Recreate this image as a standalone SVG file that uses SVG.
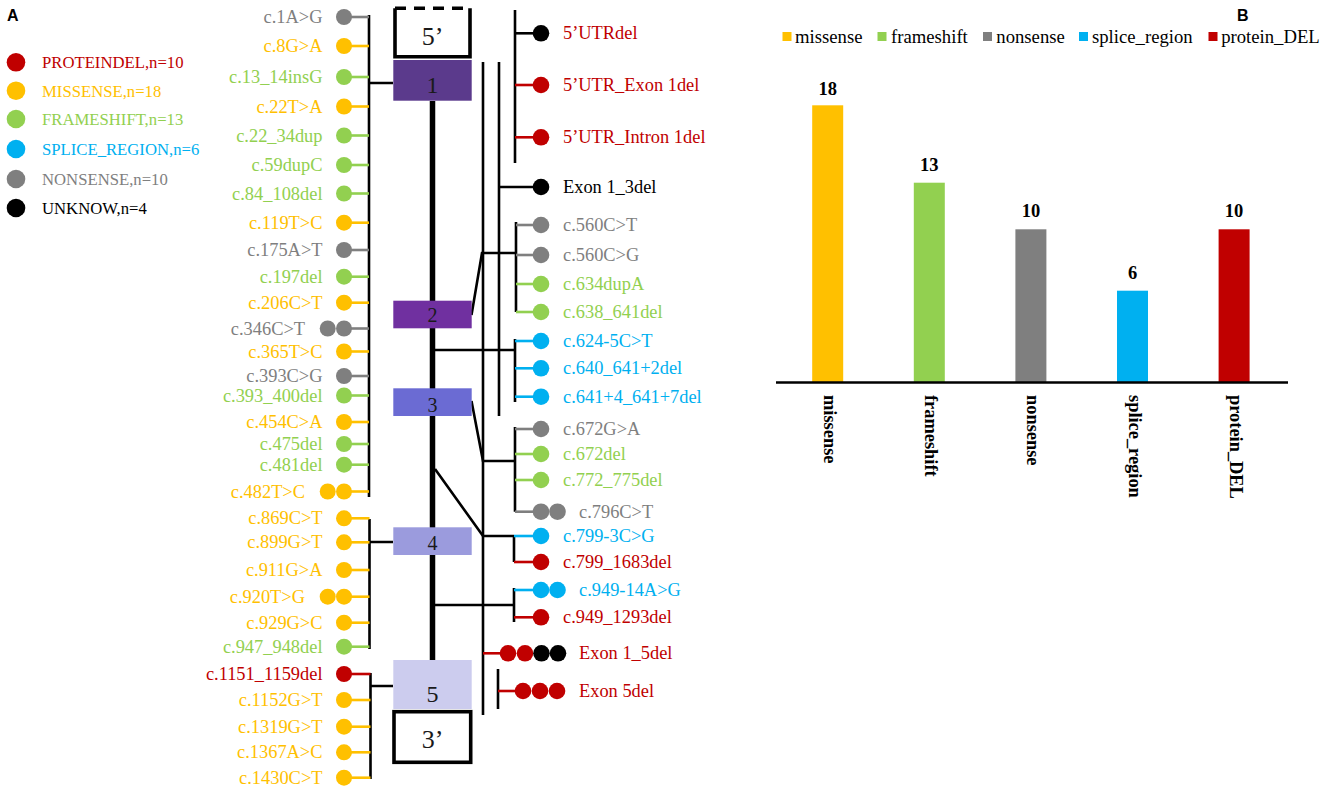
<svg xmlns="http://www.w3.org/2000/svg" width="1325" height="795" viewBox="0 0 1325 795">
<style>
text{font-family:"Liberation Serif","Times New Roman",serif}
.v{font-size:18.4px}
.e{text-anchor:end}
.lg{font-size:16.7px}
.r{fill:#C00000}.y{fill:#FFC000}.g{fill:#92D050}.b{fill:#00B0F0}.n{fill:#7F7F7F}.k{fill:#000}
path{fill:none;stroke-width:2.6}
.sr{stroke:#C00000}.sy{stroke:#FFC000}.sg{stroke:#92D050}.sb{stroke:#00B0F0}.sn{stroke:#7F7F7F}.sk{stroke:#000}
.thick{stroke-width:5.5}
.box{stroke:#000;stroke-width:3.6}
.ex{text-anchor:middle;fill:#1a1a1a}
.pl{font-family:"Liberation Sans",Arial,sans-serif;font-weight:bold;font-size:16px}
.val{font-weight:bold;font-size:18.5px;text-anchor:middle}
.ax{font-weight:bold;font-size:18.4px}
.bt{font-size:18.7px}
</style>

<text class="pl" x="7" y="21">A</text>
<text class="pl" x="1237" y="21">B</text>

<g id="legend-left">
<circle cx="16" cy="62.3" r="9.3" class="r"/><text x="42" y="68" class="lg r">PROTEINDEL,n=10</text>
<circle cx="16" cy="90.7" r="9.3" class="y"/><text x="42" y="96.5" class="lg y">MISSENSE,n=18</text>
<circle cx="16" cy="119" r="9.3" class="g"/><text x="42" y="125" class="lg g">FRAMESHIFT,n=13</text>
<circle cx="16" cy="149" r="9.3" class="b"/><text x="42" y="155" class="lg b">SPLICE_REGION,n=6</text>
<circle cx="16" cy="179" r="9.3" class="n"/><text x="42" y="185" class="lg n">NONSENSE,n=10</text>
<circle cx="16" cy="208" r="9.3" class="k"/><text x="42" y="214" class="lg k">UNKNOW,n=4</text>
</g>

<g id="connectors" stroke="#000">
<path d="M369 15V497M369 83H393"/>
<path d="M369.5 519V649M369.5 542H393"/>
<path d="M370.5 673V779M370.5 686H393"/>
<path d="M432.5 101V660" class="thick"/>
<path d="M483 62V715"/>
<path d="M499 62V416"/>
<path d="M515 10V163"/>
<path d="M471.5 315L482 253H516M516 222V312"/>
<path d="M432.5 350H515M515 339V402"/>
<path d="M471.5 401L483 461H515M515 427V511.7"/>
<path d="M435 469L483 536H514M514 536V562"/>
<path d="M432.5 605H514M514 588V622"/>
<path d="M498 669V709"/>
</g>

<g id="gene">
<g id="utr5"><path d="M395 58.5V8.3M470 58.5V8.3M395 56.7H470" class="box"/><path d="M395 8.3H470" class="box" stroke-dasharray="11 8"/><text x="432.5" y="45" class="ex" font-size="26">5’</text></g>
<g id="exon1"><rect x="393.3" y="60" width="78.4" height="40.7" fill="#5B3A8C"/><text x="432.5" y="93.3" class="ex" font-size="24">1</text></g>
<g id="exon2"><rect x="393.3" y="300.7" width="78.4" height="27.6" fill="#7030A0"/><text x="432.5" y="322" class="ex" font-size="20">2</text></g>
<g id="exon3"><rect x="393.3" y="388.3" width="78.4" height="27.7" fill="#6B6BD3"/><text x="432.5" y="411.5" class="ex" font-size="20">3</text></g>
<g id="exon4"><rect x="393.3" y="527.3" width="78.4" height="27.7" fill="#9B9BDD"/><text x="432.5" y="550" class="ex" font-size="20">4</text></g>
<g id="exon5"><rect x="393.3" y="660" width="78.4" height="49" fill="#CCCCEE"/><text x="432.5" y="701.7" class="ex" font-size="24">5</text></g>
<g id="utr3"><rect x="394" y="711.7" width="76.7" height="50.6" fill="#fff" class="box"/><text x="432.5" y="748.3" class="ex" font-size="26">3’</text></g>
</g>

<g id="left-variants">
<g id="l01"><path d="M344 17H369" class="sn"/><circle cx="344" cy="17" r="8" class="n"/><text x="322.5" y="23" class="v e n">c.1A&gt;G</text></g>
<g id="l02"><path d="M344 46H369" class="sy"/><circle cx="344" cy="46" r="8" class="y"/><text x="322.5" y="52" class="v e y">c.8G&gt;A</text></g>
<g id="l03"><path d="M344 77H369" class="sg"/><circle cx="344" cy="77" r="8" class="g"/><text x="322.5" y="83" class="v e g">c.13_14insG</text></g>
<g id="l04"><path d="M344 106.5H369" class="sy"/><circle cx="344" cy="106.5" r="8" class="y"/><text x="322.5" y="112.5" class="v e y">c.22T&gt;A</text></g>
<g id="l05"><path d="M344 135.5H369" class="sg"/><circle cx="344" cy="135.5" r="8" class="g"/><text x="322.5" y="141.5" class="v e g">c.22_34dup</text></g>
<g id="l06"><path d="M344 165H369" class="sg"/><circle cx="344" cy="165" r="8" class="g"/><text x="322.5" y="171" class="v e g">c.59dupC</text></g>
<g id="l07"><path d="M344 193.5H369" class="sg"/><circle cx="344" cy="193.5" r="8" class="g"/><text x="322.5" y="199.5" class="v e g">c.84_108del</text></g>
<g id="l08"><path d="M344 222.7H369" class="sy"/><circle cx="344" cy="222.7" r="8" class="y"/><text x="322.5" y="228.7" class="v e y">c.119T&gt;C</text></g>
<g id="l09"><path d="M344 250H369" class="sn"/><circle cx="344" cy="250" r="8" class="n"/><text x="322.5" y="256" class="v e n">c.175A&gt;T</text></g>
<g id="l10"><path d="M344 276.7H369" class="sg"/><circle cx="344" cy="276.7" r="8" class="g"/><text x="322.5" y="282.7" class="v e g">c.197del</text></g>
<g id="l11"><path d="M344 302.7H369" class="sy"/><circle cx="344" cy="302.7" r="8" class="y"/><text x="322.5" y="308.7" class="v e y">c.206C&gt;T</text></g>
<g id="l12"><path d="M344 328.5H369" class="sn"/><circle cx="327.7" cy="328.5" r="8" class="n"/><circle cx="344" cy="328.5" r="8" class="n"/><text x="305" y="334.5" class="v e n">c.346C&gt;T</text></g>
<g id="l13"><path d="M344 351.5H369" class="sy"/><circle cx="344" cy="351.5" r="8" class="y"/><text x="322.5" y="357.5" class="v e y">c.365T&gt;C</text></g>
<g id="l14"><path d="M344 376H369" class="sn"/><circle cx="344" cy="376" r="8" class="n"/><text x="322.5" y="382" class="v e n">c.393C&gt;G</text></g>
<g id="l15"><path d="M344 395.5H369" class="sg"/><circle cx="344" cy="395.5" r="8" class="g"/><text x="322.5" y="401.5" class="v e g">c.393_400del</text></g>
<g id="l16"><path d="M344 422H369" class="sy"/><circle cx="344" cy="422" r="8" class="y"/><text x="322.5" y="428" class="v e y">c.454C&gt;A</text></g>
<g id="l17"><path d="M344 444H369" class="sg"/><circle cx="344" cy="444" r="8" class="g"/><text x="322.5" y="450" class="v e g">c.475del</text></g>
<g id="l18"><path d="M344 464.7H369" class="sg"/><circle cx="344" cy="464.7" r="8" class="g"/><text x="322.5" y="470.7" class="v e g">c.481del</text></g>
<g id="l19"><path d="M344 491.5H369" class="sy"/><circle cx="327.7" cy="491.5" r="8" class="y"/><circle cx="344" cy="491.5" r="8" class="y"/><text x="305" y="497.5" class="v e y">c.482T&gt;C</text></g>
<g id="l20"><path d="M344 518.3H369.5" class="sy"/><circle cx="344" cy="518.3" r="8" class="y"/><text x="322.5" y="524.3" class="v e y">c.869C&gt;T</text></g>
<g id="l21"><path d="M344 542.3H369.5" class="sy"/><circle cx="344" cy="542.3" r="8" class="y"/><text x="322.5" y="548.3" class="v e y">c.899G&gt;T</text></g>
<g id="l22"><path d="M344 570H369.5" class="sy"/><circle cx="344" cy="570" r="8" class="y"/><text x="322.5" y="576" class="v e y">c.911G&gt;A</text></g>
<g id="l23"><path d="M344 596.7H369.5" class="sy"/><circle cx="327.7" cy="596.7" r="8" class="y"/><circle cx="344" cy="596.7" r="8" class="y"/><text x="305" y="602.7" class="v e y">c.920T&gt;G</text></g>
<g id="l24"><path d="M344 622.7H369.5" class="sy"/><circle cx="344" cy="622.7" r="8" class="y"/><text x="322.5" y="628.7" class="v e y">c.929G&gt;C</text></g>
<g id="l25"><path d="M344 646.7H369.5" class="sg"/><circle cx="344" cy="646.7" r="8" class="g"/><text x="322.5" y="652.7" class="v e g">c.947_948del</text></g>
<g id="l26"><path d="M344 674H370.5" class="sr"/><circle cx="344" cy="674" r="8" class="r"/><text x="322.5" y="680" class="v e r">c.1151_1159del</text></g>
<g id="l27"><path d="M344 700H370.5" class="sy"/><circle cx="344" cy="700" r="8" class="y"/><text x="322.5" y="706" class="v e y">c.1152G&gt;T</text></g>
<g id="l28"><path d="M344 726.7H370.5" class="sy"/><circle cx="344" cy="726.7" r="8" class="y"/><text x="322.5" y="732.7" class="v e y">c.1319G&gt;T</text></g>
<g id="l29"><path d="M344 752.3H370.5" class="sy"/><circle cx="344" cy="752.3" r="8" class="y"/><text x="322.5" y="758.3" class="v e y">c.1367A&gt;C</text></g>
<g id="l30"><path d="M344 777.7H370.5" class="sy"/><circle cx="344" cy="777.7" r="8" class="y"/><text x="322.5" y="783.7" class="v e y">c.1430C&gt;T</text></g>
</g>

<g id="right-variants">
<g id="r01"><path d="M515 33.3H541" class="sk"/><circle cx="541" cy="33.3" r="8.3" class="k"/><text x="563" y="39.3" class="v r">5’UTRdel</text></g>
<g id="r02"><path d="M515 85H541" class="sr"/><circle cx="541" cy="85" r="8.3" class="r"/><text x="563" y="91" class="v r">5’UTR_Exon 1del</text></g>
<g id="r03"><path d="M515 137.3H541" class="sr"/><circle cx="541" cy="137.3" r="8.3" class="r"/><text x="563" y="143.3" class="v r">5’UTR_Intron 1del</text></g>
<g id="r04"><path d="M499 187H541" class="sk"/><circle cx="541" cy="187" r="8.3" class="k"/><text x="563" y="193" class="v k">Exon 1_3del</text></g>
<g id="r05"><path d="M516 225H541" class="sn"/><circle cx="541" cy="225" r="8.3" class="n"/><text x="563" y="231" class="v n">c.560C&gt;T</text></g>
<g id="r06"><path d="M516 255H541" class="sn"/><circle cx="541" cy="255" r="8.3" class="n"/><text x="563" y="261" class="v n">c.560C&gt;G</text></g>
<g id="r07"><path d="M516 284H541" class="sg"/><circle cx="541" cy="284" r="8.3" class="g"/><text x="563" y="290" class="v g">c.634dupA</text></g>
<g id="r08"><path d="M516 312H541" class="sg"/><circle cx="541" cy="312" r="8.3" class="g"/><text x="563" y="318" class="v g">c.638_641del</text></g>
<g id="r09"><path d="M515 341H541" class="sb"/><circle cx="541" cy="341" r="8.3" class="b"/><text x="563" y="347" class="v b">c.624-5C&gt;T</text></g>
<g id="r10"><path d="M515 368.3H541" class="sb"/><circle cx="541" cy="368.3" r="8.3" class="b"/><text x="563" y="374.3" class="v b">c.640_641+2del</text></g>
<g id="r11"><path d="M515 396.7H541" class="sb"/><circle cx="541" cy="396.7" r="8.3" class="b"/><text x="563" y="402.7" class="v b">c.641+4_641+7del</text></g>
<g id="r12"><path d="M515 429H541" class="sn"/><circle cx="541" cy="429" r="8.3" class="n"/><text x="563" y="435" class="v n">c.672G&gt;A</text></g>
<g id="r13"><path d="M515 454H541" class="sg"/><circle cx="541" cy="454" r="8.3" class="g"/><text x="563" y="460" class="v g">c.672del</text></g>
<g id="r14"><path d="M515 480H541" class="sg"/><circle cx="541" cy="480" r="8.3" class="g"/><text x="563" y="486" class="v g">c.772_775del</text></g>
<g id="r15"><path d="M515 511.7H541" class="sn"/><circle cx="541" cy="511.7" r="8.3" class="n"/><circle cx="557.5" cy="511.7" r="8.3" class="n"/><text x="579" y="517.7" class="v n">c.796C&gt;T</text></g>
<g id="r16"><path d="M514 536H541" class="sb"/><circle cx="541" cy="536" r="8.3" class="b"/><text x="563" y="542" class="v b">c.799-3C&gt;G</text></g>
<g id="r17"><path d="M514 562H541" class="sr"/><circle cx="541" cy="562" r="8.3" class="r"/><text x="563" y="568" class="v r">c.799_1683del</text></g>
<g id="r18"><path d="M514 590H541" class="sb"/><circle cx="541" cy="590" r="8.3" class="b"/><circle cx="557.5" cy="590" r="8.3" class="b"/><text x="579" y="596" class="v b">c.949-14A&gt;G</text></g>
<g id="r19"><path d="M514 617.3H541" class="sr"/><circle cx="541" cy="617.3" r="8.3" class="r"/><text x="563" y="623.3" class="v r">c.949_1293del</text></g>
<g id="r20"><path d="M483 653.3H508" class="sr"/><circle cx="508" cy="653.3" r="8.3" class="r"/><circle cx="525" cy="653.3" r="8.3" class="r"/><circle cx="541.5" cy="653.3" r="8.3" class="k"/><circle cx="558" cy="653.3" r="8.3" class="k"/><text x="579" y="659.3" class="v r">Exon 1_5del</text></g>
<g id="r21"><path d="M498 691H523" class="sr"/><circle cx="523" cy="691" r="8.3" class="r"/><circle cx="540" cy="691" r="8.3" class="r"/><circle cx="557" cy="691" r="8.3" class="r"/><text x="579" y="697" class="v r">Exon 5del</text></g>
</g>

<g id="bar-legend">
<rect x="782.5" y="32" width="9" height="9" class="y"/><text x="795" y="42.7" class="bt">missense</text>
<rect x="877.5" y="32" width="9" height="9" class="g"/><text x="891" y="42.7" class="bt">frameshift</text>
<rect x="983" y="32" width="9" height="9" class="n"/><text x="996.3" y="42.7" class="bt">nonsense</text>
<rect x="1079" y="32" width="9" height="9" class="b"/><text x="1092" y="42.7" class="bt">splice_region</text>
<rect x="1208.5" y="32" width="9" height="9" class="r"/><text x="1221.2" y="42.7" class="bt">protein_DEL</text>
</g>

<g id="bars">
<g id="bar-missense"><rect x="812.2" y="105.3" width="31" height="277.2" class="y"/><text x="827.7" y="95" class="val">18</text><text class="ax" transform="translate(823.7 395) rotate(90)">missense</text></g>
<g id="bar-frameshift"><rect x="913.8" y="182.7" width="31" height="199.8" class="g"/><text x="929.3" y="170.7" class="val">13</text><text class="ax" transform="translate(925.3 395) rotate(90)">frameshift</text></g>
<g id="bar-nonsense"><rect x="1015.4" y="229.3" width="31" height="153.2" class="n"/><text x="1030.9" y="217.3" class="val">10</text><text class="ax" transform="translate(1026.9 395) rotate(90)">nonsense</text></g>
<g id="bar-splice"><rect x="1117" y="290.7" width="31" height="91.8" class="b"/><text x="1132.5" y="279" class="val">6</text><text class="ax" transform="translate(1128.5 395) rotate(90)">splice_region</text></g>
<g id="bar-protein"><rect x="1218.6" y="229.3" width="31" height="153.2" class="r"/><text x="1234.1" y="217.3" class="val">10</text><text class="ax" transform="translate(1230.1 395) rotate(90)">protein_DEL</text></g>
<path d="M776 382.5H1288" stroke="#000"/>
</g>
</svg>
